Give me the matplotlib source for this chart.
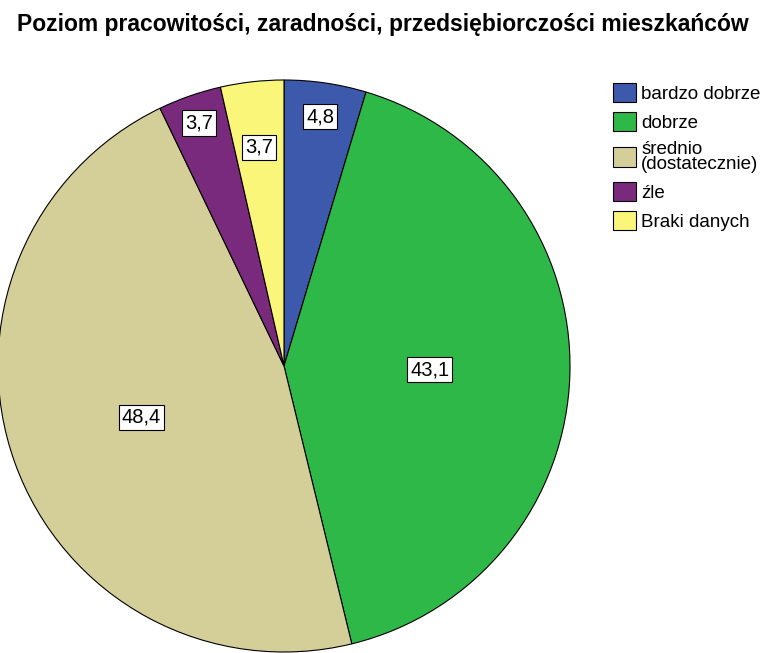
import numpy as np
import matplotlib.pyplot as plt

plt.rcParams['font.family'] = ['Liberation Sans', 'DejaVu Sans']

title = "Poziom pracowitości, zaradności, przedsiębiorczości mieszkańców"
categories = ["bardzo dobrze", "dobrze", "średnio\n(dostatecznie)", "źle", "Braki danych"]
values = [4.8, 43.1, 48.4, 3.7, 3.7]
value_labels = ["4,8", "43,1", "48,4", "3,7", "3,7"]
colors = ["#3d59ab", "#2eb848", "#d4cf99", "#7a2a7d", "#faf67a"]
label_dist = [0.88, 0.51, 0.53, 0.90, 0.77]

W, H = 766, 653
cx, cy, r = 284, 366, 286  # pie centre / radius in pixels

fig = plt.figure(figsize=(W / 100, H / 100), dpi=100)
ax = fig.add_axes([0, 0, 1, 1])

wedges, _ = ax.pie(values, colors=colors, startangle=90, counterclock=False,
                   radius=1, frame=True,
                   wedgeprops=dict(edgecolor='black', linewidth=0.8))
ax.set_xlim(-cx / r, (W - cx) / r)
ax.set_ylim(-(H - cy) / r, cy / r)
ax.set_aspect('auto')
ax.axis('off')

for w, lab, d in zip(wedges, value_labels, label_dist):
    ang = np.deg2rad((w.theta1 + w.theta2) / 2)
    ax.text(d * np.cos(ang), d * np.sin(ang), lab, ha='center', va='center',
            fontsize=14.5,
            bbox=dict(boxstyle='square,pad=0.15', facecolor='white',
                      edgecolor='black', linewidth=0.8))

fig.text(383 / W, 1 - 31 / H, title, ha='center', va='baseline',
         fontsize=16.5, fontweight='bold')

leg = ax.legend(wedges, categories, loc='upper left',
                bbox_to_anchor=(613 / W, 1 - 83 / H), bbox_transform=fig.transFigure,
                frameon=False, fontsize=13.5, handlelength=1.25, handleheight=1.2,
                handletextpad=0.25, labelspacing=0.48, borderaxespad=0, borderpad=0)
for t in leg.get_texts():
    t.set_linespacing(0.85)

fig.savefig("out.png", dpi=100)
